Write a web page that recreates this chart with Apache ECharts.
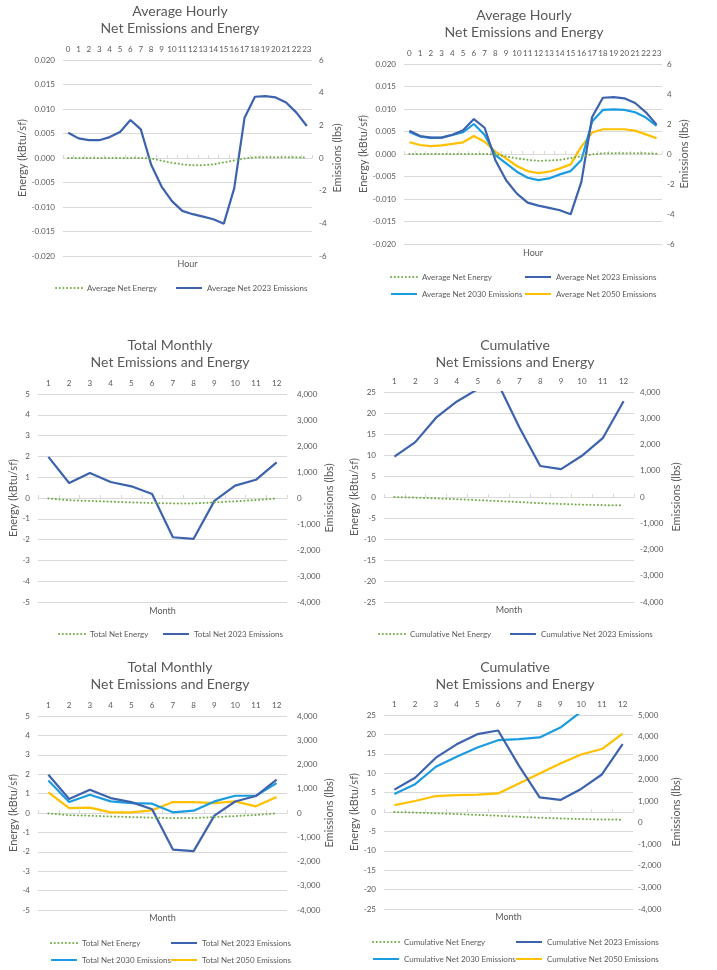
<!DOCTYPE html>
<html>
<head>
<meta charset="utf-8">
<script src="https://cdn.jsdelivr.net/npm/echarts@6/dist/echarts.min.js"></script>
<style>
html,body{margin:0;padding:0;background:#fff;}
#chart{width:717px;height:970px;}
</style>
</head>
<body>
<div id="chart"></div>
<script>
// ---- Data ----
const hours = ['0','1','2','3','4','5','6','7','8','9','10','11','12','13','14','15','16','17','18','19','20','21','22','23'];
const months = ['1','2','3','4','5','6','7','8','9','10','11','12'];

const hourlyEnergy = [0,0,0,0,0,0,0,0,-0.0001,-0.00055,-0.00097,-0.0013,-0.0015,-0.00145,-0.0013,-0.0009,-0.0005,-0.0001,0.00014,0.00014,0.00014,0.00014,0.00014,0.00007];
const hourly2023 = [1.55,1.2,1.09,1.09,1.28,1.59,2.33,1.75,-0.41,-1.75,-2.64,-3.24,-3.44,-3.59,-3.75,-4.02,-1.86,2.47,3.75,3.79,3.71,3.4,2.78,1.96];
const hourly2030 = [1.47,1.16,1.07,1.09,1.27,1.45,2.0,1.27,-0.07,-0.62,-1.18,-1.58,-1.74,-1.63,-1.36,-1.14,-0.4,2.16,2.94,2.98,2.94,2.78,2.43,1.87];
const hourly2050 = [0.78,0.6,0.53,0.58,0.67,0.78,1.2,0.82,0.16,-0.29,-0.8,-1.14,-1.27,-1.18,-0.96,-0.69,0.49,1.43,1.65,1.65,1.65,1.56,1.31,1.05];

const monthlyEnergy = [-0.02,-0.11,-0.14,-0.18,-0.21,-0.24,-0.26,-0.26,-0.21,-0.16,-0.1,-0.02];
const monthly2023 = [1580,577,962,615,449,154,-1510,-1570,-110,474,700,1372];
const monthly2030 = [1342,452,753,479,411,384,27,96,479,712,712,1233];
const monthly2050 = [849,205,219,27,27,110,452,452,411,479,274,658];

const cumulEnergy = [-0.02,-0.15,-0.33,-0.53,-0.74,-0.97,-1.22,-1.47,-1.66,-1.82,-1.93,-1.98];
const cumul2023 = [1540,2090,3020,3640,4110,4280,2650,1180,1060,1570,2240,3650];
const cumul2030 = [1330,1790,2600,3060,3490,3830,3880,3960,4420,5150,5850,7080];
const cumul2050 = [820,1010,1240,1280,1310,1360,1820,2290,2750,3170,3420,4140];

// ---- Styles ----
const TXT = '#595959';
const GRIDC = '#d9d9d9';
const C_EN = '#70AD47', C23 = '#3D63AE', C30 = '#1C9CE0', C50 = '#FFC000';

const fmt3 = v => (Math.abs(v) < 1e-9 ? 0 : v).toFixed(3);
const fmtInt = v => Math.round(v).toString();
const fmtK = v => Math.round(v).toLocaleString('en-US');

const panels = [
  { title:'Average Hourly\nNet Emissions and Energy', cx:180, ty:2.5,
    grid:{left:63, top:60, width:249, height:196}, cats:hours, xName:'Hour', xNameTop:258.5,
    left:{min:-0.02,max:0.02,interval:0.005,fmt:fmt3,gap:33}, right:{min:-6,max:6,interval:2,fmt:fmtInt,gap:20,margin:7},
    series:[['Average Net Energy',hourlyEnergy,C_EN,true],['Average Net 2023 Emissions',hourly2023,C23,false]],
    legends:[['Average Net Energy',55,284],['Average Net 2023 Emissions',175,284]] },
  { title:'Average Hourly\nNet Emissions and Energy', cx:524, ty:6.5,
    grid:{left:404, top:64, width:258, height:180}, cats:hours, xName:'Hour', xNameTop:247.5,
    left:{min:-0.02,max:0.02,interval:0.005,fmt:fmt3,gap:33}, right:{min:-6,max:6,interval:2,fmt:fmtInt,gap:17,margin:5},
    series:[['Average Net Energy',hourlyEnergy,C_EN,true],['Average Net 2050 Emissions',hourly2050,C50,false],['Average Net 2030 Emissions',hourly2030,C30,false],['Average Net 2023 Emissions',hourly2023,C23,false]],
    legends:[['Average Net Energy',390,273],['Average Net 2023 Emissions',524,273],['Average Net 2030 Emissions',390,290],['Average Net 2050 Emissions',524,290]] },
  { title:'Total Monthly\nNet Emissions and Energy', cx:170, ty:336.5,
    grid:{left:38, top:394, width:249, height:208}, cats:months, xName:'Month', xNameTop:605.5,
    left:{min:-5,max:5,interval:1,fmt:fmtInt,gap:19}, right:{min:-4000,max:4000,interval:1000,fmt:fmtK,gap:37,margin:10},
    series:[['Total Net Energy',monthlyEnergy,C_EN,true],['Total Net 2023 Emissions',monthly2023,C23,false]],
    legends:[['Total Net Energy',58,630],['Total Net 2023 Emissions',162,630]] },
  { title:'Cumulative\nNet Emissions and Energy', cx:515, ty:336.5,
    grid:{left:384, top:392, width:250, height:210}, cats:months, xName:'Month', xNameTop:604.5,
    left:{min:-25,max:25,interval:5,fmt:fmtInt,gap:23}, right:{min:-4000,max:4000,interval:1000,fmt:fmtK,gap:37,margin:6},
    series:[['Cumulative Net Energy',cumulEnergy,C_EN,true],['Cumulative Net 2023 Emissions',cumul2023,C23,false]],
    legends:[['Cumulative Net Energy',378,630],['Cumulative Net 2023 Emissions',509,630]] },
  { title:'Total Monthly\nNet Emissions and Energy', cx:170, ty:658.5,
    grid:{left:38, top:716, width:249, height:194}, cats:months, xName:'Month', xNameTop:912.5,
    left:{min:-5,max:5,interval:1,fmt:fmtInt,gap:19}, right:{min:-4000,max:4000,interval:1000,fmt:fmtK,gap:37,margin:10},
    series:[['Total Net Energy',monthlyEnergy,C_EN,true],['Total Net 2050 Emissions',monthly2050,C50,false],['Total Net 2030 Emissions',monthly2030,C30,false],['Total Net 2023 Emissions',monthly2023,C23,false]],
    legends:[['Total Net Energy',50,939],['Total Net 2023 Emissions',170,939],['Total Net 2030 Emissions',50,956],['Total Net 2050 Emissions',170,956]] },
  { title:'Cumulative\nNet Emissions and Energy', cx:515, ty:658.5,
    grid:{left:384, top:715, width:249, height:194}, cats:months, xName:'Month', xNameTop:911.5,
    left:{min:-25,max:25,interval:5,fmt:fmtInt,gap:23}, right:{min:-4000,max:5000,interval:1000,fmt:fmtK,gap:38,margin:5},
    series:[['Cumulative Net Energy',cumulEnergy,C_EN,true],['Cumulative Net 2050 Emissions',cumul2050,C50,false],['Cumulative Net 2030 Emissions',cumul2030,C30,false],['Cumulative Net 2023 Emissions',cumul2023,C23,false]],
    legends:[['Cumulative Net Energy',372,938],['Cumulative Net 2023 Emissions',515,938],['Cumulative Net 2030 Emissions',372,955],['Cumulative Net 2050 Emissions',515,955]] }
];

const option = {
  animation:false,
  backgroundColor:'#fff',
  textStyle:{fontFamily:'Lato, "Open Sans", sans-serif'},
  title:[], legend:[], grid:[], xAxis:[], yAxis:[], series:[]
};

panels.forEach((p, i) => {
  option.title.push({
    text:p.title, left:p.cx, top:p.ty, textAlign:'center', padding:0,
    textStyle:{fontSize:14, fontWeight:'normal', color:TXT, lineHeight:17}
  });
  option.title.push({
    text:p.xName, left:p.grid.left + p.grid.width/2, top:p.xNameTop, textAlign:'center', padding:0,
    textStyle:{fontSize:9, fontWeight:'normal', color:TXT, lineHeight:11}
  });
  option.grid.push(Object.assign({containLabel:false}, p.grid));
  option.xAxis.push({
    type:'category', gridIndex:i, data:p.cats, position:'top', boundaryGap:true,
    axisLine:{show:true, lineStyle:{color:GRIDC}},
    axisTick:{show:true, length:3, lineStyle:{color:GRIDC}},
    axisLabel:{interval:0, color:TXT, fontSize:8, margin:7},
    splitLine:{show:false}
  });
  option.yAxis.push({
    type:'value', gridIndex:i, position:'left', min:p.left.min, max:p.left.max, interval:p.left.interval,
    name:'Energy (kBtu/sf)', nameLocation:'middle', nameRotate:90, nameGap:p.left.gap,
    nameTextStyle:{color:TXT, fontSize:11},
    axisLine:{show:false}, axisTick:{show:false},
    axisLabel:{color:TXT, fontSize:8, margin:8, formatter:p.left.fmt},
    splitLine:{show:true, lineStyle:{color:GRIDC, width:1}}
  });
  option.yAxis.push({
    type:'value', gridIndex:i, position:'right', min:p.right.min, max:p.right.max, interval:p.right.interval,
    name:'Emissions (lbs)', nameLocation:'middle', nameRotate:90, nameGap:p.right.gap,
    nameTextStyle:{color:TXT, fontSize:11},
    axisLine:{show:false}, axisTick:{show:false},
    axisLabel:{color:TXT, fontSize:8, margin:p.right.margin, formatter:p.right.fmt},
    splitLine:{show:false}
  });
  p.series.forEach(([name, data, color, isEnergy]) => {
    option.series.push({
      name, type:'line', xAxisIndex:i, yAxisIndex: isEnergy ? 2*i : 2*i+1,
      data, symbol:'none', showSymbol:false, clip:true,
      z: isEnergy ? 3 : 2,
      itemStyle:{color},
      lineStyle: isEnergy ? {color, width:2, type:[0.1, 3.6], cap:'round'} : {color, width:2.2}
    });
  });
  p.legends.forEach(([name, x, y]) => {
    option.legend.push({
      data:[name], left:x, top:y, padding:0, itemWidth:26, itemHeight:10, selectedMode:false,
      itemStyle:{opacity:0},
      textStyle:{color:TXT, fontSize:8}
    });
  });
});

const chart = echarts.init(document.getElementById('chart'), null, {renderer:'canvas'});
chart.setOption(option);
</script>
</body>
</html>
